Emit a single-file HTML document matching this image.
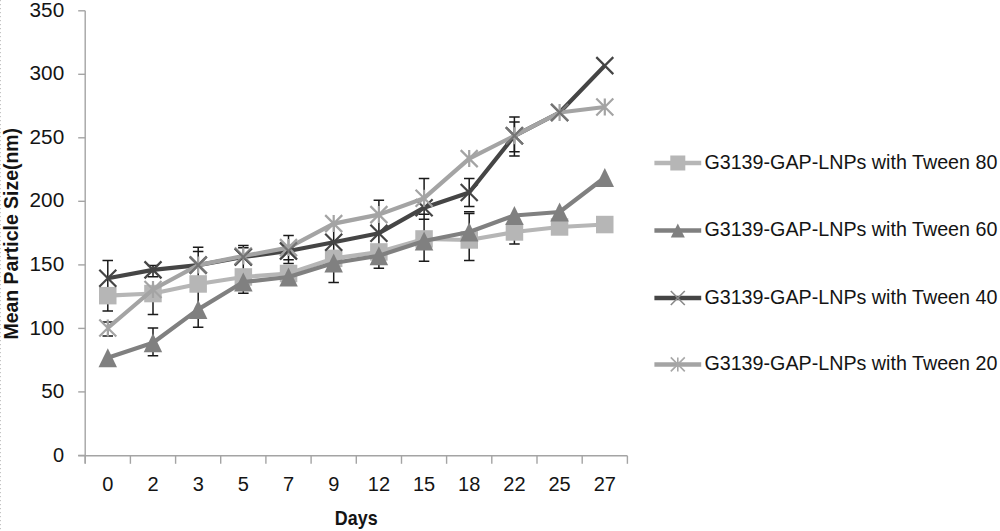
<!DOCTYPE html><html><head><meta charset="utf-8"><style>html,body{margin:0;padding:0;background:#fff;width:1000px;height:531px;overflow:hidden}svg{display:block}text{font-family:"Liberation Sans",sans-serif;fill:#141414}</style></head><body>
<svg width="1000" height="531" viewBox="0 0 1000 531">
<line x1="0.5" y1="0" x2="0.5" y2="531" stroke="#c4c4c4" stroke-width="1" stroke-dasharray="1.2 2.8"/>
<g stroke="#a4a4a4" stroke-width="1.4" fill="none">
<line x1="85.2" y1="10.8" x2="85.2" y2="463.4"/>
<line x1="78.2" y1="455.8" x2="627.4" y2="455.8"/>
<line x1="78.2" y1="455.4" x2="85.2" y2="455.4"/>
<line x1="78.2" y1="391.9" x2="85.2" y2="391.9"/>
<line x1="78.2" y1="328.4" x2="85.2" y2="328.4"/>
<line x1="78.2" y1="264.9" x2="85.2" y2="264.9"/>
<line x1="78.2" y1="201.3" x2="85.2" y2="201.3"/>
<line x1="78.2" y1="137.8" x2="85.2" y2="137.8"/>
<line x1="78.2" y1="74.3" x2="85.2" y2="74.3"/>
<line x1="78.2" y1="10.8" x2="85.2" y2="10.8"/>
<line x1="85.2" y1="455.8" x2="85.2" y2="463.8"/>
<line x1="130.4" y1="455.8" x2="130.4" y2="463.8"/>
<line x1="175.6" y1="455.8" x2="175.6" y2="463.8"/>
<line x1="220.7" y1="455.8" x2="220.7" y2="463.8"/>
<line x1="265.9" y1="455.8" x2="265.9" y2="463.8"/>
<line x1="311.1" y1="455.8" x2="311.1" y2="463.8"/>
<line x1="356.3" y1="455.8" x2="356.3" y2="463.8"/>
<line x1="401.5" y1="455.8" x2="401.5" y2="463.8"/>
<line x1="446.6" y1="455.8" x2="446.6" y2="463.8"/>
<line x1="491.8" y1="455.8" x2="491.8" y2="463.8"/>
<line x1="537.0" y1="455.8" x2="537.0" y2="463.8"/>
<line x1="582.2" y1="455.8" x2="582.2" y2="463.8"/>
<line x1="627.4" y1="455.8" x2="627.4" y2="463.8"/>
</g>
<text x="64.2" y="461.5" font-size="20" text-anchor="end" lengthAdjust="spacingAndGlyphs">0</text>
<text x="64.2" y="398.0" font-size="20" text-anchor="end" textLength="23" lengthAdjust="spacingAndGlyphs">50</text>
<text x="64.2" y="334.5" font-size="20" text-anchor="end" textLength="34.6" lengthAdjust="spacingAndGlyphs">100</text>
<text x="64.2" y="271.0" font-size="20" text-anchor="end" textLength="34.6" lengthAdjust="spacingAndGlyphs">150</text>
<text x="64.2" y="207.4" font-size="20" text-anchor="end" textLength="34.6" lengthAdjust="spacingAndGlyphs">200</text>
<text x="64.2" y="143.9" font-size="20" text-anchor="end" textLength="34.6" lengthAdjust="spacingAndGlyphs">250</text>
<text x="64.2" y="80.4" font-size="20" text-anchor="end" textLength="34.6" lengthAdjust="spacingAndGlyphs">300</text>
<text x="64.2" y="16.9" font-size="20" text-anchor="end" textLength="34.6" lengthAdjust="spacingAndGlyphs">350</text>
<text x="107.8" y="490.7" font-size="20" text-anchor="middle">0</text>
<text x="153.0" y="490.7" font-size="20" text-anchor="middle">2</text>
<text x="198.2" y="490.7" font-size="20" text-anchor="middle">3</text>
<text x="243.3" y="490.7" font-size="20" text-anchor="middle">5</text>
<text x="288.5" y="490.7" font-size="20" text-anchor="middle">7</text>
<text x="333.7" y="490.7" font-size="20" text-anchor="middle">9</text>
<text x="378.9" y="490.7" font-size="20" text-anchor="middle">12</text>
<text x="424.1" y="490.7" font-size="20" text-anchor="middle">15</text>
<text x="469.2" y="490.7" font-size="20" text-anchor="middle">18</text>
<text x="514.4" y="490.7" font-size="20" text-anchor="middle">22</text>
<text x="559.6" y="490.7" font-size="20" text-anchor="middle">25</text>
<text x="604.8" y="490.7" font-size="20" text-anchor="middle">27</text>
<text x="334.8" y="525" font-size="20.5" font-weight="bold" textLength="42.8" lengthAdjust="spacingAndGlyphs">Days</text>
<text transform="translate(18.4,339.5) rotate(-90)" x="0" y="0" font-size="19.5" font-weight="bold" textLength="211.5" lengthAdjust="spacingAndGlyphs">Mean Particle Size(nm)</text>
<path d="M107.8,260.6L107.8,311.0M102.5,260.6L113.0,260.6M102.5,311.0L113.0,311.0" stroke="#1a1a1a" stroke-width="1.5" fill="none"/>
<path d="M107.8,321.9L107.8,335.9M102.5,321.9L113.0,321.9M102.5,335.9L113.0,335.9" stroke="#1a1a1a" stroke-width="1.5" fill="none"/>
<path d="M153.0,265.4L153.0,276.7M147.7,265.4L158.2,265.4M147.7,276.7L158.2,276.7" stroke="#1a1a1a" stroke-width="1.5" fill="none"/>
<path d="M153.0,282.0L153.0,314.4M147.7,314.4L158.2,314.4" stroke="#1a1a1a" stroke-width="1.5" fill="none"/>
<path d="M153.0,328.0L153.0,355.8M147.7,328.0L158.2,328.0M147.7,355.8L158.2,355.8" stroke="#1a1a1a" stroke-width="1.5" fill="none"/>
<path d="M198.2,247.2L198.2,327.3M192.9,247.2L203.4,247.2M192.9,327.3L203.4,327.3" stroke="#1a1a1a" stroke-width="1.5" fill="none"/>
<path d="M198.2,251.6L198.2,251.6M192.9,251.6L203.4,251.6M192.9,251.6L203.4,251.6" stroke="#1a1a1a" stroke-width="1.5" fill="none"/>
<path d="M243.3,245.4L243.3,293.3M238.1,245.4L248.6,245.4M238.1,293.3L248.6,293.3" stroke="#1a1a1a" stroke-width="1.5" fill="none"/>
<path d="M243.3,247.8L243.3,247.8M238.1,247.8L248.6,247.8M238.1,247.8L248.6,247.8" stroke="#1a1a1a" stroke-width="1.5" fill="none"/>
<path d="M288.5,235.5L288.5,263.4M283.3,235.5L293.8,235.5M283.3,263.4L293.8,263.4" stroke="#1a1a1a" stroke-width="1.5" fill="none"/>
<path d="M288.5,259.8L288.5,259.8M283.3,259.8L293.8,259.8M283.3,259.8L293.8,259.8" stroke="#1a1a1a" stroke-width="1.5" fill="none"/>
<path d="M333.7,223.6L333.7,282.6M328.4,282.6L338.9,282.6" stroke="#1a1a1a" stroke-width="1.5" fill="none"/>
<path d="M378.9,200.2L378.9,268.3M373.6,200.2L384.1,200.2M373.6,268.3L384.1,268.3" stroke="#1a1a1a" stroke-width="1.5" fill="none"/>
<path d="M424.1,178.5L424.1,261.3M418.8,178.5L429.3,178.5M418.8,261.3L429.3,261.3" stroke="#1a1a1a" stroke-width="1.5" fill="none"/>
<path d="M424.1,214.3L424.1,214.3M418.8,214.3L429.3,214.3M418.8,214.3L429.3,214.3" stroke="#1a1a1a" stroke-width="1.5" fill="none"/>
<path d="M424.1,219.3L424.1,219.3M418.8,219.3L429.3,219.3M418.8,219.3L429.3,219.3" stroke="#1a1a1a" stroke-width="1.5" fill="none"/>
<path d="M469.2,178.4L469.2,206.6M464.0,178.4L474.5,178.4M464.0,206.6L474.5,206.6" stroke="#1a1a1a" stroke-width="1.5" fill="none"/>
<path d="M469.2,213.4L469.2,260.4M464.0,213.4L474.5,213.4M464.0,260.4L474.5,260.4" stroke="#1a1a1a" stroke-width="1.5" fill="none"/>
<path d="M469.2,211.8L469.2,211.8M464.0,211.8L474.5,211.8M464.0,211.8L474.5,211.8" stroke="#1a1a1a" stroke-width="1.5" fill="none"/>
<path d="M514.4,117.0L514.4,156.0M509.2,117.0L519.7,117.0M509.2,156.0L519.7,156.0" stroke="#1a1a1a" stroke-width="1.5" fill="none"/>
<path d="M514.4,122.0L514.4,151.7M509.2,122.0L519.7,122.0M509.2,151.7L519.7,151.7" stroke="#1a1a1a" stroke-width="1.5" fill="none"/>
<path d="M514.4,222.0L514.4,244.0M509.2,244.0L519.7,244.0" stroke="#1a1a1a" stroke-width="1.5" fill="none"/>
<polyline points="107.8,295.7 153.0,293.5 198.2,284.0 243.3,277.0 288.5,273.5 333.7,258.4 378.9,252.0 424.1,239.0 469.2,240.0 514.4,232.0 559.6,227.0 604.8,224.5" fill="none" stroke="#b6b6b6" stroke-width="4.2" stroke-linejoin="round"/>
<rect x="99.0" y="286.9" width="17.5" height="17.5" fill="#b6b6b6"/>
<rect x="144.2" y="284.8" width="17.5" height="17.5" fill="#b6b6b6"/>
<rect x="189.4" y="275.2" width="17.5" height="17.5" fill="#b6b6b6"/>
<rect x="234.6" y="268.2" width="17.5" height="17.5" fill="#b6b6b6"/>
<rect x="279.8" y="264.8" width="17.5" height="17.5" fill="#b6b6b6"/>
<rect x="324.9" y="249.6" width="17.5" height="17.5" fill="#b6b6b6"/>
<rect x="370.1" y="243.2" width="17.5" height="17.5" fill="#b6b6b6"/>
<rect x="415.3" y="230.2" width="17.5" height="17.5" fill="#b6b6b6"/>
<rect x="460.5" y="231.2" width="17.5" height="17.5" fill="#b6b6b6"/>
<rect x="505.7" y="223.2" width="17.5" height="17.5" fill="#b6b6b6"/>
<rect x="550.8" y="218.2" width="17.5" height="17.5" fill="#b6b6b6"/>
<rect x="596.0" y="215.8" width="17.5" height="17.5" fill="#b6b6b6"/>
<polyline points="107.8,357.7 153.0,342.7 198.2,309.4 243.3,282.0 288.5,277.0 333.7,263.0 378.9,255.7 424.1,241.0 469.2,232.0 514.4,215.5 559.6,212.0 604.8,177.5" fill="none" stroke="#808080" stroke-width="4.2" stroke-linejoin="round"/>
<polygon points="98.5,367.2 117.0,367.2 107.8,348.2" fill="#808080"/>
<polygon points="143.7,352.2 162.2,352.2 153.0,333.2" fill="#808080"/>
<polygon points="188.9,318.9 207.4,318.9 198.2,299.9" fill="#808080"/>
<polygon points="234.1,291.5 252.6,291.5 243.3,272.5" fill="#808080"/>
<polygon points="279.3,286.5 297.8,286.5 288.5,267.5" fill="#808080"/>
<polygon points="324.4,272.5 342.9,272.5 333.7,253.5" fill="#808080"/>
<polygon points="369.6,265.2 388.1,265.2 378.9,246.2" fill="#808080"/>
<polygon points="414.8,250.5 433.3,250.5 424.1,231.5" fill="#808080"/>
<polygon points="460.0,241.5 478.5,241.5 469.2,222.5" fill="#808080"/>
<polygon points="505.2,225.0 523.7,225.0 514.4,206.0" fill="#808080"/>
<polygon points="550.3,221.5 568.8,221.5 559.6,202.5" fill="#808080"/>
<polygon points="595.5,187.0 614.0,187.0 604.8,168.0" fill="#808080"/>
<polyline points="107.8,278.2 153.0,269.9 198.2,265.1 243.3,257.0 288.5,251.0 333.7,242.3 378.9,233.2 424.1,207.7 469.2,192.5 514.4,135.8 559.6,112.5 604.8,65.6" fill="none" stroke="#454545" stroke-width="4.2" stroke-linejoin="round"/>
<path d="M99.3,269.7L116.3,286.7M99.3,286.7L116.3,269.7" stroke="#454545" stroke-width="2.2" fill="none"/>
<path d="M144.5,261.4L161.5,278.4M144.5,278.4L161.5,261.4" stroke="#454545" stroke-width="2.2" fill="none"/>
<path d="M189.7,256.6L206.7,273.6M189.7,273.6L206.7,256.6" stroke="#454545" stroke-width="2.2" fill="none"/>
<path d="M234.8,248.5L251.8,265.5M234.8,265.5L251.8,248.5" stroke="#454545" stroke-width="2.2" fill="none"/>
<path d="M280.0,242.5L297.0,259.5M280.0,259.5L297.0,242.5" stroke="#454545" stroke-width="2.2" fill="none"/>
<path d="M325.2,233.8L342.2,250.8M325.2,250.8L342.2,233.8" stroke="#454545" stroke-width="2.2" fill="none"/>
<path d="M370.4,224.7L387.4,241.7M370.4,241.7L387.4,224.7" stroke="#454545" stroke-width="2.2" fill="none"/>
<path d="M415.6,199.2L432.6,216.2M415.6,216.2L432.6,199.2" stroke="#454545" stroke-width="2.2" fill="none"/>
<path d="M460.7,184.0L477.7,201.0M460.7,201.0L477.7,184.0" stroke="#454545" stroke-width="2.2" fill="none"/>
<path d="M505.9,127.3L522.9,144.3M505.9,144.3L522.9,127.3" stroke="#454545" stroke-width="2.2" fill="none"/>
<path d="M551.1,104.0L568.1,121.0M551.1,121.0L568.1,104.0" stroke="#454545" stroke-width="2.2" fill="none"/>
<path d="M596.3,57.1L613.3,74.1M596.3,74.1L613.3,57.1" stroke="#454545" stroke-width="2.2" fill="none"/>
<polyline points="107.8,328.0 153.0,289.5 198.2,265.1 243.3,256.0 288.5,247.6 333.7,223.6 378.9,214.6 424.1,198.2 469.2,158.6 514.4,135.8 559.6,112.5 604.8,107.0" fill="none" stroke="#a4a4a4" stroke-width="4.2" stroke-linejoin="round"/>
<path d="M99.3,319.5L116.3,336.5M99.3,336.5L116.3,319.5M107.8,319.5L107.8,336.5" stroke="#a4a4a4" stroke-width="2.2" fill="none"/>
<path d="M144.5,281.0L161.5,298.0M144.5,298.0L161.5,281.0M153.0,281.0L153.0,298.0" stroke="#a4a4a4" stroke-width="2.2" fill="none"/>
<path d="M189.7,256.6L206.7,273.6M189.7,273.6L206.7,256.6M198.2,256.6L198.2,273.6" stroke="#a4a4a4" stroke-width="2.2" fill="none"/>
<path d="M234.8,247.5L251.8,264.5M234.8,264.5L251.8,247.5M243.3,247.5L243.3,264.5" stroke="#a4a4a4" stroke-width="2.2" fill="none"/>
<path d="M280.0,239.1L297.0,256.1M280.0,256.1L297.0,239.1M288.5,239.1L288.5,256.1" stroke="#a4a4a4" stroke-width="2.2" fill="none"/>
<path d="M325.2,215.1L342.2,232.1M325.2,232.1L342.2,215.1M333.7,215.1L333.7,232.1" stroke="#a4a4a4" stroke-width="2.2" fill="none"/>
<path d="M370.4,206.1L387.4,223.1M370.4,223.1L387.4,206.1M378.9,206.1L378.9,223.1" stroke="#a4a4a4" stroke-width="2.2" fill="none"/>
<path d="M415.6,189.7L432.6,206.7M415.6,206.7L432.6,189.7M424.1,189.7L424.1,206.7" stroke="#a4a4a4" stroke-width="2.2" fill="none"/>
<path d="M460.7,150.1L477.7,167.1M460.7,167.1L477.7,150.1M469.2,150.1L469.2,167.1" stroke="#a4a4a4" stroke-width="2.2" fill="none"/>
<path d="M505.9,127.3L522.9,144.3M505.9,144.3L522.9,127.3M514.4,127.3L514.4,144.3" stroke="#a4a4a4" stroke-width="2.2" fill="none"/>
<path d="M551.1,104.0L568.1,121.0M551.1,121.0L568.1,104.0M559.6,104.0L559.6,121.0" stroke="#a4a4a4" stroke-width="2.2" fill="none"/>
<path d="M596.3,98.5L613.3,115.5M596.3,115.5L613.3,98.5M604.8,98.5L604.8,115.5" stroke="#a4a4a4" stroke-width="2.2" fill="none"/>
<g opacity="0.5">
<path d="M189.7,256.6L206.7,273.6M189.7,273.6L206.7,256.6" stroke="#454545" stroke-width="2.2" fill="none"/>
<path d="M234.8,248.5L251.8,265.5M234.8,265.5L251.8,248.5" stroke="#454545" stroke-width="2.2" fill="none"/>
<path d="M280.0,242.5L297.0,259.5M280.0,259.5L297.0,242.5" stroke="#454545" stroke-width="2.2" fill="none"/>
<path d="M505.9,127.3L522.9,144.3M505.9,144.3L522.9,127.3" stroke="#454545" stroke-width="2.2" fill="none"/>
<path d="M551.1,104.0L568.1,121.0M551.1,121.0L568.1,104.0" stroke="#454545" stroke-width="2.2" fill="none"/>
</g>
<line x1="654.4" y1="163.0" x2="701.2" y2="163.0" stroke="#b6b6b6" stroke-width="4.5"/>
<rect x="670.3" y="155.5" width="15" height="15" fill="#b6b6b6"/>
<text x="704.4" y="169.0" font-size="20" textLength="293" lengthAdjust="spacingAndGlyphs">G3139-GAP-LNPs with Tween 80</text>
<line x1="654.4" y1="230.4" x2="701.2" y2="230.4" stroke="#808080" stroke-width="4.5"/>
<polygon points="670.8,237.4 684.8,237.4 677.8,223.4" fill="#808080"/>
<text x="704.4" y="236.4" font-size="20" textLength="293" lengthAdjust="spacingAndGlyphs">G3139-GAP-LNPs with Tween 60</text>
<line x1="654.4" y1="298.0" x2="701.2" y2="298.0" stroke="#454545" stroke-width="4.5"/>
<path d="M670.8,291.0L684.8,305.0M670.8,305.0L684.8,291.0" stroke="#8a8a8a" stroke-width="1.6" fill="none"/>
<text x="704.4" y="304.0" font-size="20" textLength="293" lengthAdjust="spacingAndGlyphs">G3139-GAP-LNPs with Tween 40</text>
<line x1="654.4" y1="364.4" x2="701.2" y2="364.4" stroke="#a4a4a4" stroke-width="4.5"/>
<path d="M670.8,357.4L684.8,371.4M670.8,371.4L684.8,357.4M677.8,357.4L677.8,371.4" stroke="#a8a8a8" stroke-width="1.6" fill="none"/>
<text x="704.4" y="370.4" font-size="20" textLength="293" lengthAdjust="spacingAndGlyphs">G3139-GAP-LNPs with Tween 20</text>
</svg></body></html>
